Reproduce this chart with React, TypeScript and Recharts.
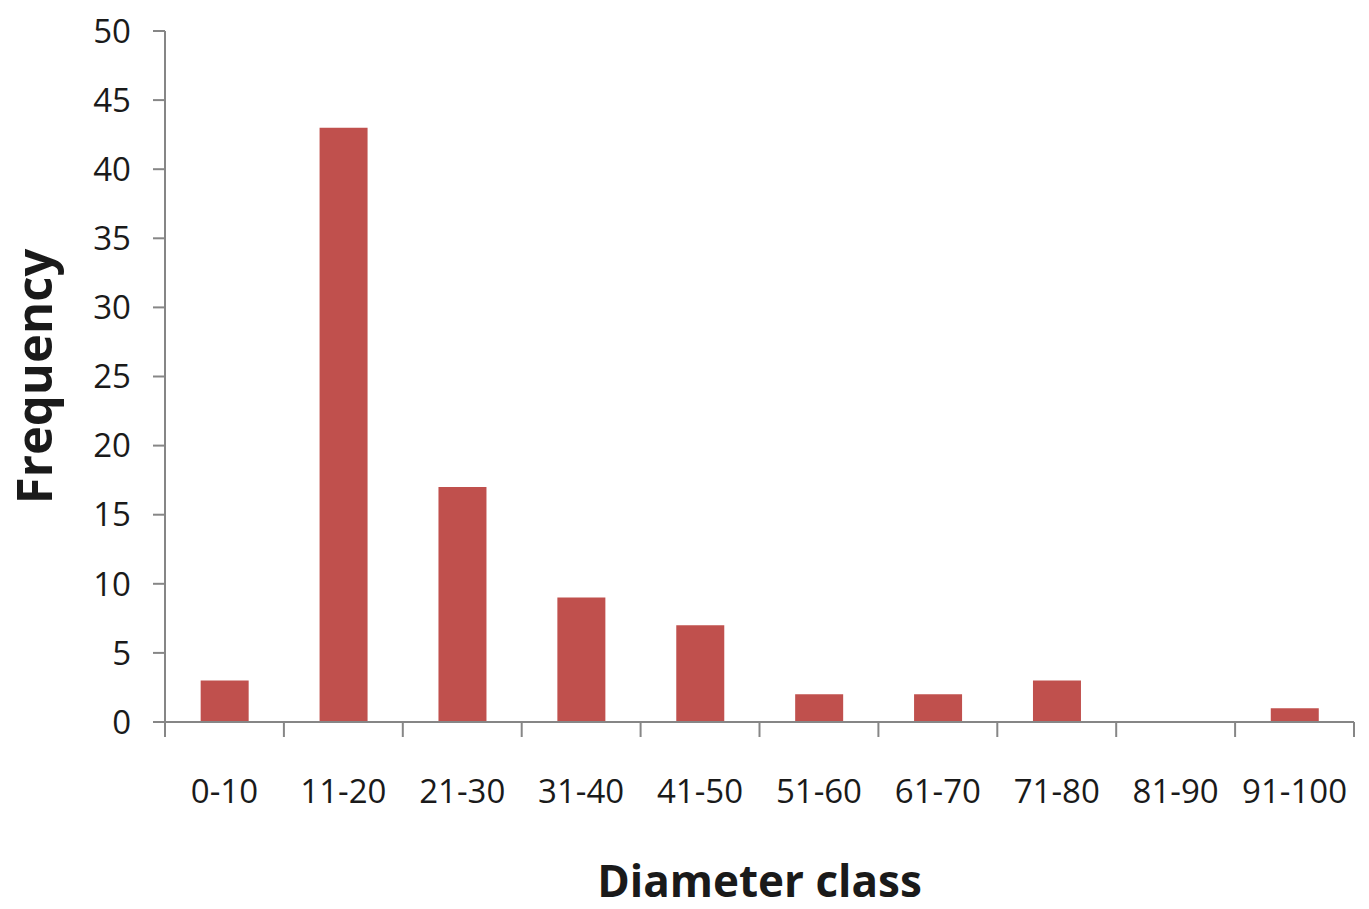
import React from 'react';
import { BarChart, Bar, XAxis, YAxis } from 'recharts';

const categories = ['0-10', '11-20', '21-30', '31-40', '41-50', '51-60', '61-70', '71-80', '81-90', '91-100'];
const frequencies = [3, 43, 17, 9, 7, 2, 2, 3, 0, 1];
const yTicks = [0, 5, 10, 15, 20, 25, 30, 35, 40, 45, 50];

const data = categories.map((c, i) => ({ name: c, value: frequencies[i] }));

const AXIS = '#868686';
const TEXT = '#1a1a1a';
const FONT = '"Open Sans", sans-serif';
const N = categories.length;
const X_TICK_SIZE = 15;
const X_TICK_MARGIN = 43;

const XTick = (props: any) => {
  const { x, y, payload, index } = props;
  const half = payload && typeof payload.offset === 'number' && payload.offset > 0 ? payload.offset : 59.45;
  const axisY = y - X_TICK_MARGIN - X_TICK_SIZE;
  return (
    <g>
      <line x1={x - half} y1={axisY} x2={x - half} y2={axisY + X_TICK_SIZE} stroke={AXIS} strokeWidth={2} />
      {index === N - 1 && (
        <line x1={x + half} y1={axisY} x2={x + half} y2={axisY + X_TICK_SIZE} stroke={AXIS} strokeWidth={2} />
      )}
      <text x={x} y={y} dy="0.71em" textAnchor="middle" fill={TEXT} fontSize={33} fontFamily={FONT}>
        {payload.value}
      </text>
    </g>
  );
};

export default function App() {
  return (
    <div style={{ width: 1369, height: 909 }}>
      <style>{'body{margin:0}'}</style>
      <BarChart
        width={1369}
        height={909}
        data={data}
        margin={{ top: 31, right: 15, left: 10, bottom: 77 }}
        barCategoryGap="30%"
      >
        <XAxis
          dataKey="name"
          axisLine={{ stroke: AXIS, strokeWidth: 2 }}
          tickLine={false}
          tickSize={X_TICK_SIZE}
          tickMargin={X_TICK_MARGIN}
          height={110}
          interval={0}
          tick={<XTick />}
          label={{
            content: (p: any) => {
              const vb = p.viewBox || {};
              return (
                <text
                  x={vb.x + vb.width / 2}
                  y={897}
                  textAnchor="middle"
                  fontSize={44}
                  fontWeight="bold"
                  fontFamily={FONT}
                  fill={TEXT}
                >
                  Diameter class
                </text>
              );
            },
          }}
        />
        <YAxis
          domain={[0, 50]}
          ticks={yTicks}
          interval={0}
          width={155}
          axisLine={{ stroke: AXIS, strokeWidth: 2 }}
          tickLine={{ stroke: AXIS, strokeWidth: 2 }}
          tickSize={12}
          tickMargin={22}
          tick={{ fill: TEXT, fontSize: 33, fontFamily: FONT }}
          label={{
            content: (p: any) => {
              const vb = p.viewBox || {};
              const cy = vb.y + vb.height / 2;
              const cx = 52;
              return (
                <text
                  x={cx}
                  y={cy}
                  transform={`rotate(-90 ${cx} ${cy})`}
                  textAnchor="middle"
                  fontSize={49}
                  fontWeight="bold"
                  fontFamily={FONT}
                  fill={TEXT}
                >
                  Frequency
                </text>
              );
            },
          }}
        />
        <Bar dataKey="value" fill="#C0504D" isAnimationActive={false} />
      </BarChart>
    </div>
  );
}
